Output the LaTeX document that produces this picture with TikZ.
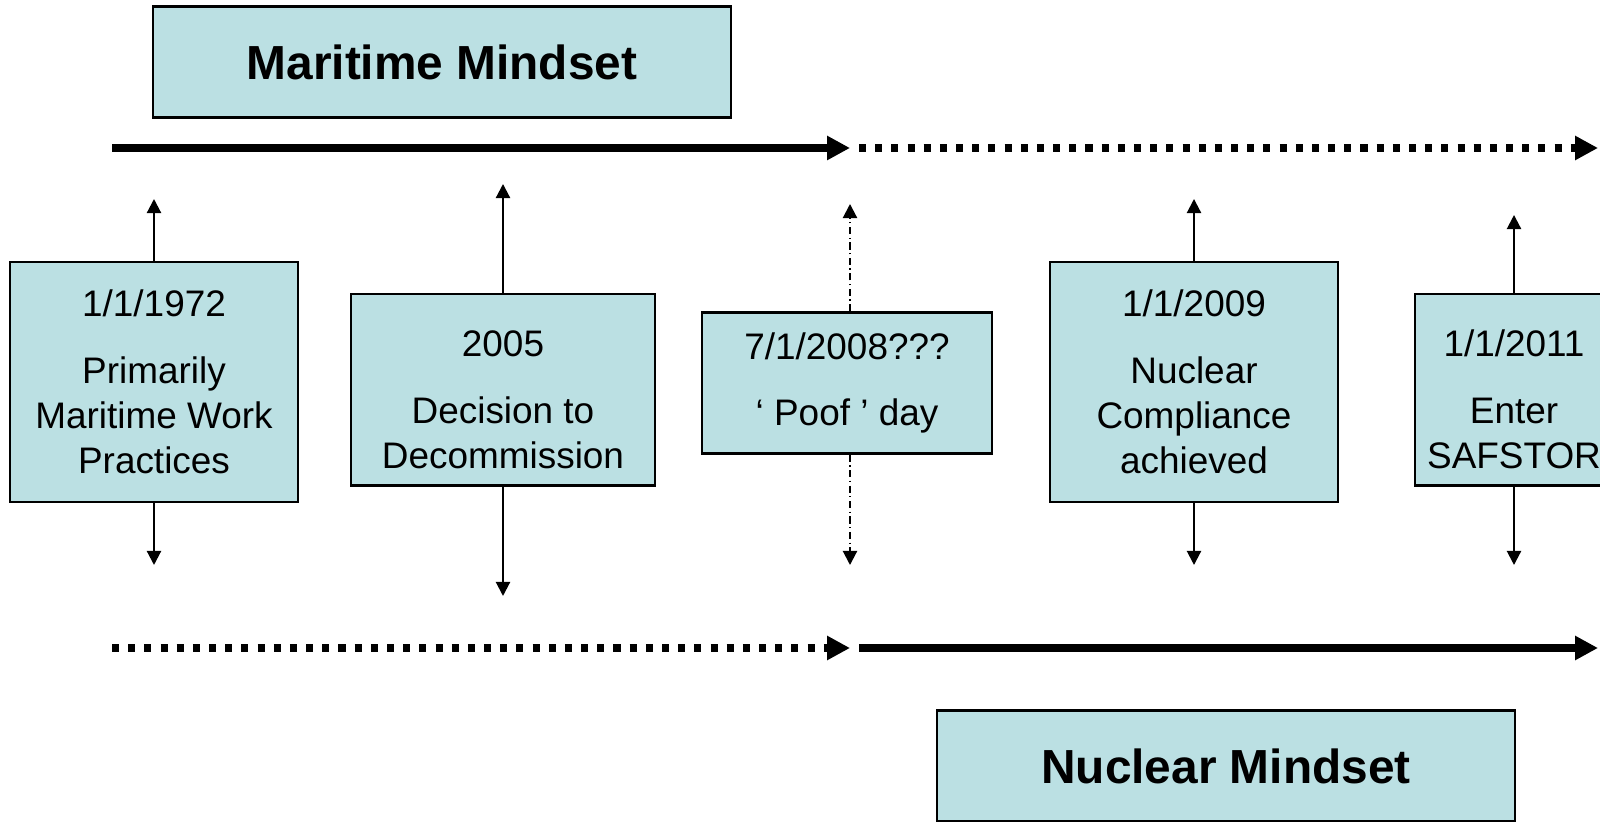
\documentclass[tikz,border=0pt]{standalone}
\usepackage{fontspec}
\setmainfont{Liberation Sans}
\usetikzlibrary{arrows.meta}
\definecolor{boxteal}{RGB}{187,224,227}
\tikzset{
  event box/.style 2 args={draw,fill=boxteal,line width=0.6pt,inner sep=0pt,align=center,
    minimum width=#1cm,minimum height=#2cm,font=\fontsize{10.5}{12.8}\selectfont},
  mindset box/.style={draw,fill=boxteal,line width=0.6pt,inner sep=0pt,
    minimum width=5.77cm,minimum height=1.11cm,font=\bfseries\fontsize{13.6}{16}\selectfont},
  phase solid/.style={line width=2.3pt,-{Triangle[length=6.5pt,width=6.5pt]}},
  phase dotted/.style={phase solid,dash pattern=on 2pt off 2.6pt},
  event link/.style={line width=0.6pt,-{Triangle[length=4pt,width=4pt]}},
  event dashdot/.style={event link,dash pattern=on 2pt off 1pt on 0.4pt off 1pt},
}

\begin{document}
\begin{tikzpicture}[x=0.01cm,y=-0.01cm]
  \useasboundingbox (0,0) rectangle (1600,822);
  % mindsets
  \node[mindset box] (maritime) at (442,62) {Maritime Mindset};
  \node[mindset box] (nuclear) at (1226,766) {Nuclear Mindset};
  \coordinate (topL) at (112,148);
  \coordinate (topM) at (850,148);
  \coordinate (topN) at (859,148);
  \coordinate (topR) at (1598,148);
  \coordinate (botL) at (112,648);
  \coordinate (botM) at (850,648);
  \coordinate (botN) at (859,648);
  \coordinate (botR) at (1598,648);
  \draw[phase solid] (topL) -- (topM);
  \draw[phase dotted] (topN) -- (topR);
  \draw[phase dotted] (botL) -- (botM);
  \draw[phase solid] (botN) -- (botR);
  % events
  \node[event box={2.88}{2.40}] (m1972) at (154,382)
    {1/1/1972\\[6.2pt]Primarily\\Maritime Work\\Practices};
  \node[event box={3.04}{1.91}] (d2005) at (503,390)
    {\rule{0pt}{13pt}2005\\[6.2pt]Decision to\\Decommission};
  \node[event box={2.89}{1.41}] (p2008) at (847,383)
    {7/1/2008???\\[6.2pt]‘ Poof ’ day};
  \node[event box={2.88}{2.40}] (c2009) at (1194,382)
    {1/1/2009\\[6.2pt]Nuclear\\Compliance\\achieved};
  \node[event box={1.98}{1.91}] (s2011) at (1514,390)
    {\rule{0pt}{13pt}1/1/2011\\[6.2pt]Enter\\SAFSTOR};
  \coordinate (m1972up) at (154,199);
  \coordinate (m1972dn) at (154,565);
  \coordinate (d2005up) at (503,184);
  \coordinate (d2005dn) at (503,596);
  \coordinate (p2008up) at (850,204);
  \coordinate (p2008dn) at (850,565);
  \coordinate (c2009up) at (1194,199);
  \coordinate (c2009dn) at (1194,565);
  \coordinate (s2011up) at (1514,215);
  \coordinate (s2011dn) at (1514,565);
  \draw[event link] (m1972.north) -- (m1972up);
  \draw[event link] (m1972.south) -- (m1972dn);
  \draw[event link] (d2005.north) -- (d2005up);
  \draw[event link] (d2005.south) -- (d2005dn);
  \draw[event dashdot] (p2008.north -| p2008up) -- (p2008up);
  \draw[event dashdot] (p2008.south -| p2008dn) -- (p2008dn);
  \draw[event link] (c2009.north) -- (c2009up);
  \draw[event link] (c2009.south) -- (c2009dn);
  \draw[event link] (s2011.north) -- (s2011up);
  \draw[event link] (s2011.south) -- (s2011dn);
\end{tikzpicture}
\end{document}
